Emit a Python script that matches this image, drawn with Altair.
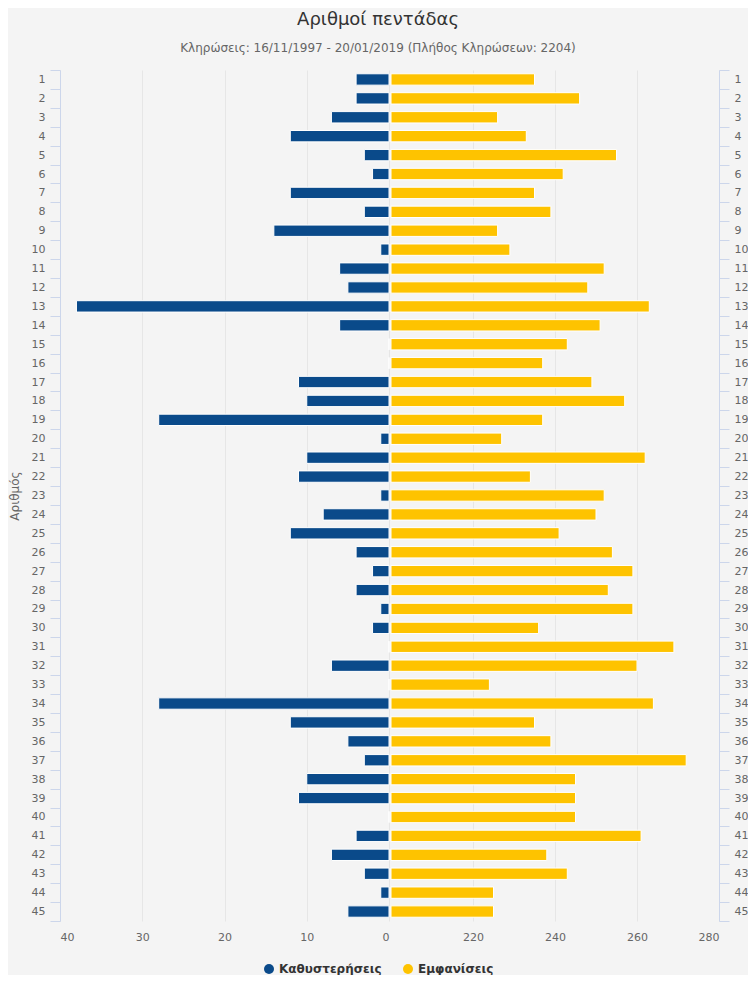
import altair as alt
import pandas as pd

numbers = [str(i) for i in range(1, 46)]
delays = [4, 4, 7, 12, 3, 2, 12, 3, 14, 1,
          6, 5, 38, 6, 0, 0, 11, 10, 28, 1,
          10, 11, 1, 8, 12, 4, 2, 4, 1, 2,
          0, 7, 0, 28, 12, 5, 3, 10, 11, 0,
          4, 7, 3, 1, 5]
appearances = [235, 246, 226, 233, 255, 242, 235, 239, 226, 229,
               252, 248, 263, 251, 243, 237, 249, 257, 237, 227,
               262, 234, 252, 250, 241, 254, 259, 253, 259, 236,
               269, 260, 224, 264, 235, 239, 272, 245, 245, 245,
               261, 238, 243, 225, 225]
series_names = ["Καθυστερήσεις", "Εμφανίσεις"]
series_colors = ["#0a4a8a", "#fec300"]

df = pd.DataFrame({
    "num": numbers,
    "delay": delays,
    "appear": appearances,
    "s1": series_names[0],
    "s2": series_names[1],
})

color_scale = alt.Scale(domain=series_names, range=series_colors)
yscale = alt.Scale(paddingInner=0, paddingOuter=0)

AX = dict(domainColor="#ccd6eb", tickColor="#ccd6eb", tickSize=10,
          labelColor="#666666", labelFontSize=11, labelPadding=5,
          tickBand="extent", grid=False)

LEG = alt.Legend(orient="none", legendX=203, legendY=893, direction="horizontal")

left = alt.Chart(df).mark_bar(height={"band": 0.6}, stroke="white", strokeWidth=1).encode(
    y=alt.Y("num:N", sort=numbers, scale=yscale,
            axis=alt.Axis(title="Αριθμός", titleColor="#666666", titleFontSize=12,
                          titleFontWeight="normal", titlePadding=10, orient="left", **AX)),
    x=alt.X("delay:Q", scale=alt.Scale(domain=[0, 40], reverse=True, nice=False),
            axis=alt.Axis(title=None, values=[0, 10, 20, 30, 40], grid=True,
                          gridColor="#e6e6e6", domain=False, ticks=False,
                          labelColor="#666666", labelFontSize=11, labelPadding=10)),
    color=alt.Color("s1:N", scale=color_scale, title=None, legend=LEG),
).properties(width=329, height=851)

right = alt.Chart(df).mark_bar(height={"band": 0.6}, stroke="white", strokeWidth=1).encode(
    y=alt.Y("num:N", sort=numbers, scale=yscale,
            axis=alt.Axis(title=None, orient="right", **AX)),
    x=alt.X("appear:Q", scale=alt.Scale(domain=[200, 280], nice=False, zero=False),
            axis=alt.Axis(title=None, values=[220, 240, 260, 280], grid=True,
                          gridColor="#e6e6e6", domain=False, ticks=False,
                          labelColor="#666666", labelFontSize=11, labelPadding=10)),
    x2=alt.datum(200),
    color=alt.Color("s2:N", scale=color_scale, title=None, legend=LEG),
).properties(width=328, height=851)

chart = alt.hconcat(left, right, spacing=0).resolve_scale(y="independent").properties(
    title=alt.TitleParams(
        text="Αριθμοί πεντάδας",
        subtitle="Κληρώσεις: 16/11/1997 - 20/01/2019 (Πλήθος Κληρώσεων: 2204)",
        anchor="middle", fontSize=18, fontWeight="normal", color="#333333",
        subtitleFontSize=12, subtitleColor="#666666", subtitlePadding=14, offset=10,
    ),
    background="#f4f4f4",
    padding={"left": 0, "right": 0, "top": 3, "bottom": 0},
).configure(font="DejaVu Sans").configure_view(stroke=None).configure_legend(
    symbolType="circle", symbolSize=100,
    labelFontSize=12, labelFontWeight="bold", labelColor="#333333", columnPadding=20,
    symbolStrokeWidth=0,
)

chart.save("out.html", embed_options={"renderer": "svg", "actions": False})
